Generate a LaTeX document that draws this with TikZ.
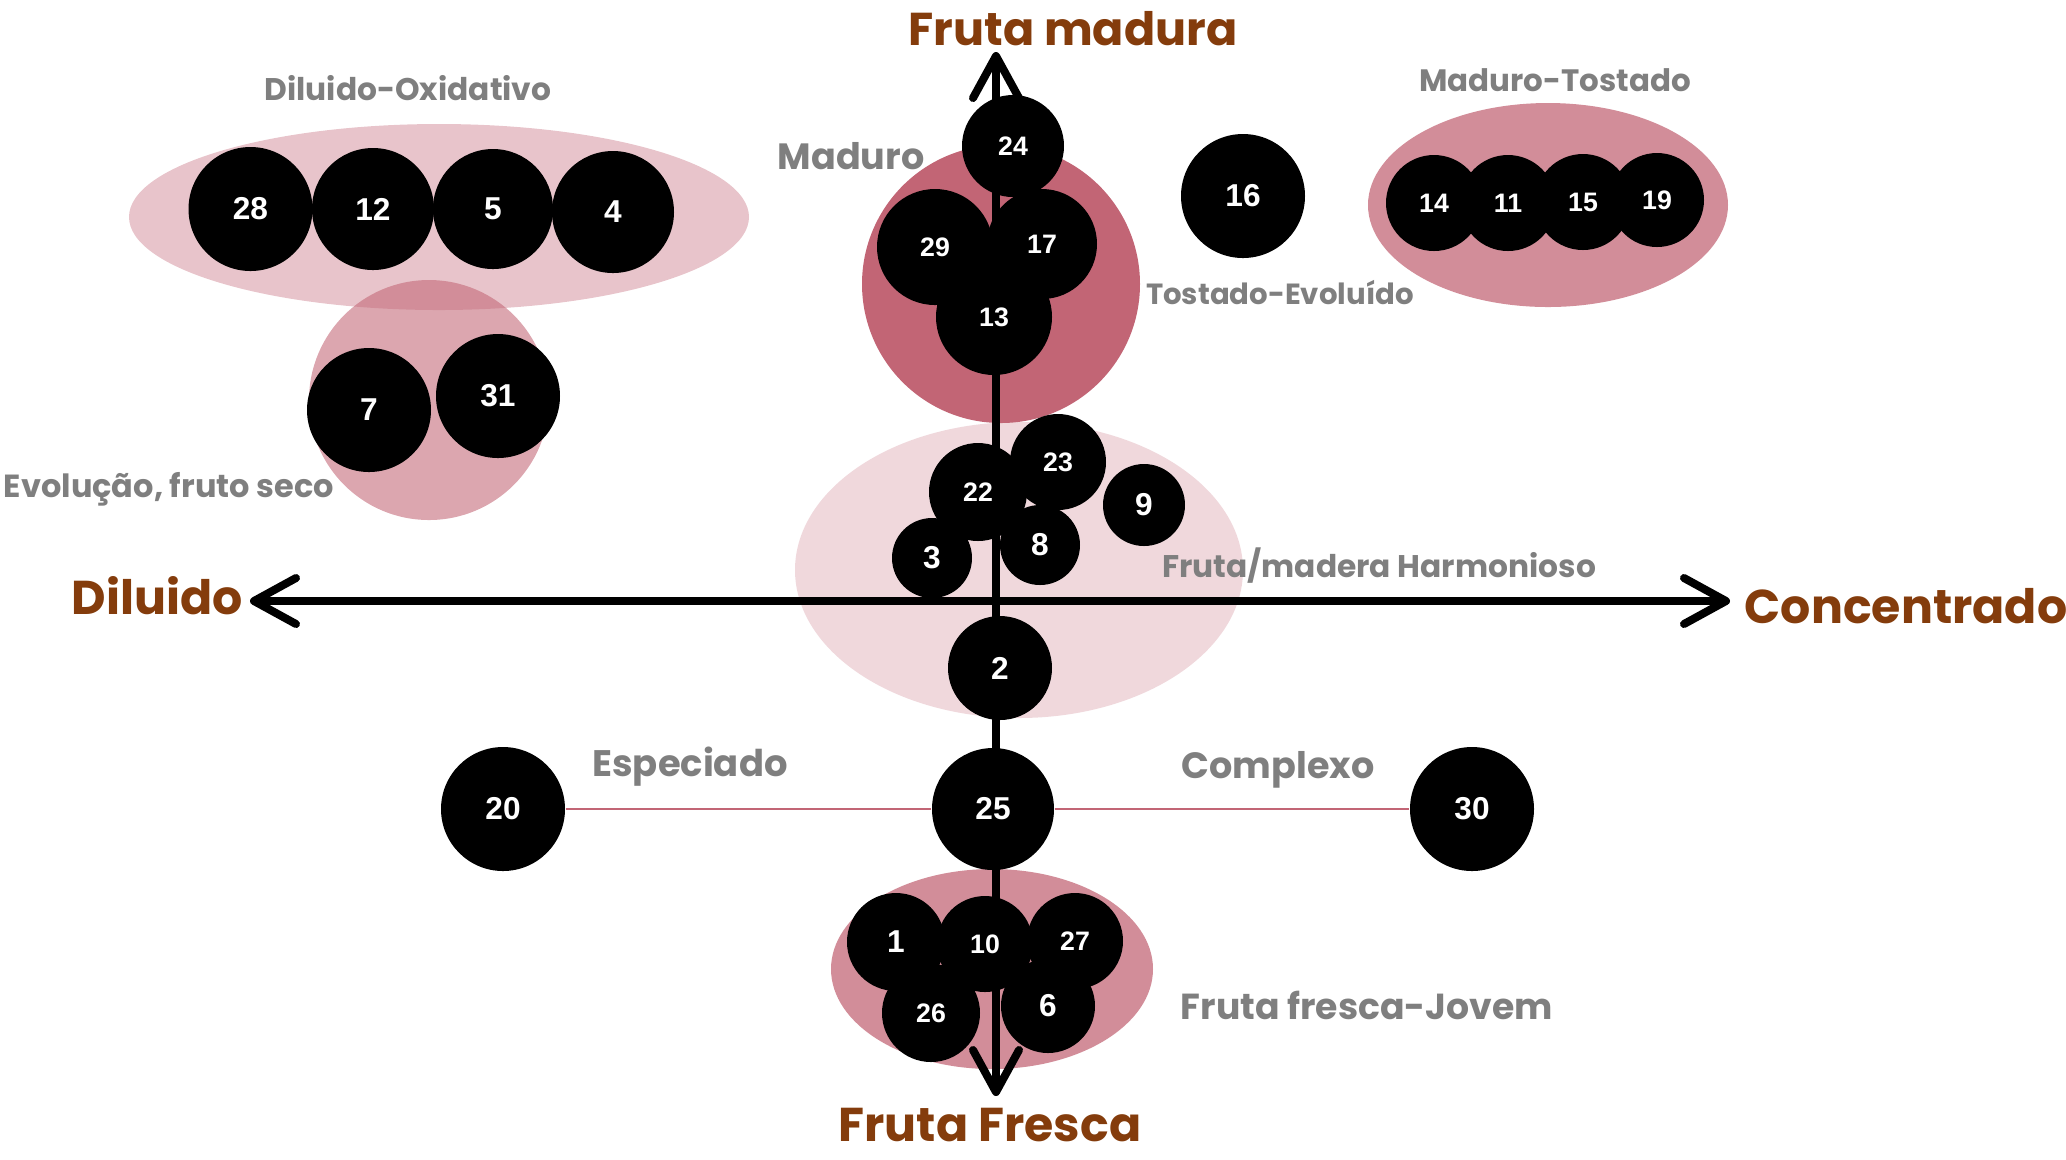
\documentclass[tikz,border=0pt]{standalone}
\usepackage{fontspec}
\usetikzlibrary{arrows.meta}
\newfontfamily\labelfont{Poppins}
\newfontfamily\numfont{Liberation Sans}
\definecolor{vino}{RGB}{194,101,117}
\definecolor{polo}{RGB}{132,60,12}
\definecolor{cinza}{RGB}{127,127,127}
\begin{document}
\begin{tikzpicture}
\tikzset{
    blob/.style={fill=vino, fill opacity=#1},
    grape/.style={circle, fill=black, text=white, inner sep=0pt, minimum size=#1,
        font=\numfont\bfseries\fontsize{9}{10}\selectfont},
    small grape/.style={grape=#1, font=\numfont\bfseries\fontsize{7.6}{9}\selectfont},
    axis/.style={line width=0.08cm,
        {Straight Barb[length=0.42cm, width=0.46cm, round]}-{Straight Barb[length=0.42cm, width=0.46cm, round]}},
    link/.style={vino, line width=0.02cm},
    group/.style={text=cinza, anchor=base, inner sep=1pt, font=\labelfont\bfseries\fontsize{#1}{11}\selectfont},
    group/.default=9.8,
    pole/.style={text=polo, anchor=base, inner sep=0pt, font=\labelfont\bfseries\fontsize{#1}{15}\selectfont},
    pole/.default=13.5}

\useasboundingbox (0,0) rectangle (20.66,-11.59);

% clusters
\fill[blob=0.38] (4.39,-2.17) ellipse [x radius=3.10, y radius=0.93];
\fill[blob=0.58] (4.29,-4.00) circle [radius=1.20];
\fill[blob=1]    (10.01,-2.84) circle [radius=1.39];
\fill[blob=0.74] (15.48,-2.05) ellipse [x radius=1.80, y radius=1.02];
\fill[blob=0.25] (10.19,-5.70) ellipse [x radius=2.24, y radius=1.48];
\fill[blob=0.74] (9.92,-9.69) ellipse [x radius=1.61, y radius=1.00];

% axes
\coordinate (top) at (9.96,-0.52);
\coordinate (bottom) at (9.96,-10.96);
\coordinate (left) at (2.50,-6.01);
\coordinate (right) at (17.30,-6.01);
\draw[axis] (bottom) -- (top);
\draw[axis] (left) -- (right);

% samples
\node[grape=1.24cm] (g28) at (2.505,-2.09) {28};
\node[grape=1.22cm] (g12) at (3.73,-2.09) {12};
\node[grape=1.20cm] (g5) at (4.93,-2.09) {5};
\node[grape=1.22cm] (g4) at (6.13,-2.12) {4};
\node[grape=1.24cm] (g7) at (3.69,-4.10) {7};
\node[grape=1.24cm] (g31) at (4.98,-3.96) {31};

\node[small grape=1.02cm] (g24) at (10.13,-1.46) {24};
\node[small grape=1.16cm] (g29) at (9.35,-2.47) {29};
\node[small grape=1.10cm] (g17) at (10.42,-2.44) {17};
\node[small grape=1.16cm] (g13) at (9.94,-3.17) {13};
\node[grape=1.24cm] (g16) at (12.43,-1.96) {16};

\node[small grape=0.96cm] (g14) at (14.34,-2.03) {14};
\node[small grape=0.96cm] (g11) at (15.08,-2.03) {11};
\node[small grape=0.96cm] (g15) at (15.83,-2.02) {15};
\node[small grape=0.94cm] (g19) at (16.57,-2.00) {19};

\node[small grape=0.96cm] (g23) at (10.58,-4.62) {23};
\node[small grape=0.98cm] (g22) at (9.78,-4.92) {22};
\node[grape=0.82cm] (g9) at (11.44,-5.05) {9};
\node[grape=0.80cm] (g8) at (10.40,-5.45) {8};
\node[grape=0.80cm] (g3) at (9.32,-5.58) {3};
\node[grape=1.04cm] (g2) at (10.00,-6.68) {2};

\node[grape=1.24cm] (g20) at (5.03,-8.09) {20};
\node[grape=1.22cm] (g25) at (9.93,-8.09) {25};
\node[grape=1.24cm] (g30) at (14.72,-8.09) {30};
\draw[link] (g20) -- (g25);
\draw[link] (g25) -- (g30);

\node[grape=0.98cm] (g1) at (8.96,-9.42) {1};
\node[small grape=0.96cm] (g10) at (9.85,-9.44) {10};
\node[small grape=0.96cm] (g27) at (10.75,-9.41) {27};
\node[small grape=0.98cm] (g26) at (9.31,-10.13) {26};
\node[grape=0.94cm] (g6) at (10.48,-10.06) {6};

% labels
\node[pole=13.1] (madura) at (10.73,-0.45) {Fruta madura};
\node[pole] (fresca) at (9.90,-11.41) {Fruta Fresca};
\node[pole] (diluido) at (1.57,-6.14) {Diluido};
\node[pole] (concentrado) at (19.06,-6.23) {Concentrado};

\node[group=8.9] (oxidativo) at (4.08,-1.00) {Diluido-Oxidativo};
\node[group=10.4] (maduro) at (8.51,-1.69) {Maduro};
\node[group=8.8] (tostado) at (15.55,-0.91) {Maduro-Tostado};
\node[group=8.3] (evoluido) at (12.80,-3.04) {Tostado-Evoluído};
\node[group=9.1] (seco) at (1.69,-4.97) {Evolução, fruto seco};
\node[group=8.9] (harmonioso) at (13.79,-5.77) {Fruta/madera Harmonioso};
\node[group=10.5] (especiado) at (6.90,-7.76) {Especiado};
\node[group=10.4] (complexo) at (12.78,-7.78) {Complexo};
\node[group=10.3] (jovem) at (13.67,-10.19) {Fruta fresca-Jovem};

\end{tikzpicture}
\end{document}
